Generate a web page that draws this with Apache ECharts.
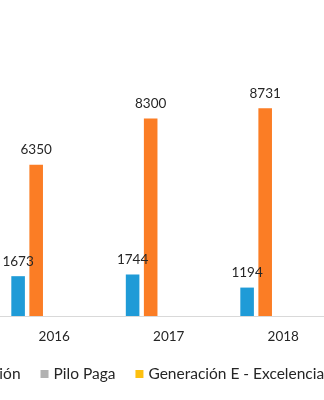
<!DOCTYPE html>
<html><head><meta charset="utf-8">
<script src="https://cdn.jsdelivr.net/npm/echarts@6/dist/echarts.min.js"></script>
<style>html,body{margin:0;padding:0;background:#fff;overflow:hidden;width:324px;height:400px}#wrap{position:relative;width:324px;height:400px;overflow:hidden}#c{position:absolute;left:-400px;top:0;width:1100px;height:400px}</style>
</head><body><div id="wrap"><div id="c"></div></div>
<script>
const categories = ['2016', '2017', '2018'];
const seriesNames = ['Crédito ICETEX', 'Jóvenes en Acción', 'Pilo Paga', 'Generación E - Excelencia', 'Generación E - Equidad'];
const seriesA = [1673, 1744, 1194];
const seriesB = [6350, 8300, 8731];
const seriesC = [null, null, null];
const seriesD = [null, null, null];
const seriesE = [null, null, null];
const colors = ['#1F9BD7', '#FB7D25', '#B2B2B2', '#FDC010', '#4472C4'];

const font = 'Lato, "Open Sans", sans-serif';
const chart = echarts.init(document.getElementById('c'), null, {renderer: 'canvas'});
const dataSets = [seriesA, seriesB, seriesC, seriesD, seriesE];
chart.setOption({
  animation: false,
  color: colors,
  grid: {left: 397, width: 343.5, top: 78, bottom: 84, containLabel: false},
  legend: {
    data: seriesNames,
    left: 138, top: 361, width: 900,
    itemWidth: 8, itemHeight: 8, itemGap: 20,
    icon: 'rect',
    textStyle: {fontFamily: font, fontSize: 15.5, color: '#262626'}
  },
  xAxis: {
    type: 'category', data: categories,
    axisLine: {lineStyle: {color: '#D9D9D9', width: 1}},
    axisTick: {show: false},
    axisLabel: {fontFamily: font, fontSize: 13.5, color: '#262626', margin: 14}
  },
  yAxis: {type: 'value', min: 0, max: 10000, show: false, splitLine: {show: false}},
  series: dataSets.map((d, i) => ({
    name: seriesNames[i], type: 'bar', data: d,
    barGap: '33%', barCategoryGap: '25%',
    label: {show: true, position: 'top', distance: 8, fontFamily: font, fontSize: 13.5, color: '#262626'}
  }))
});
</script></body></html>
